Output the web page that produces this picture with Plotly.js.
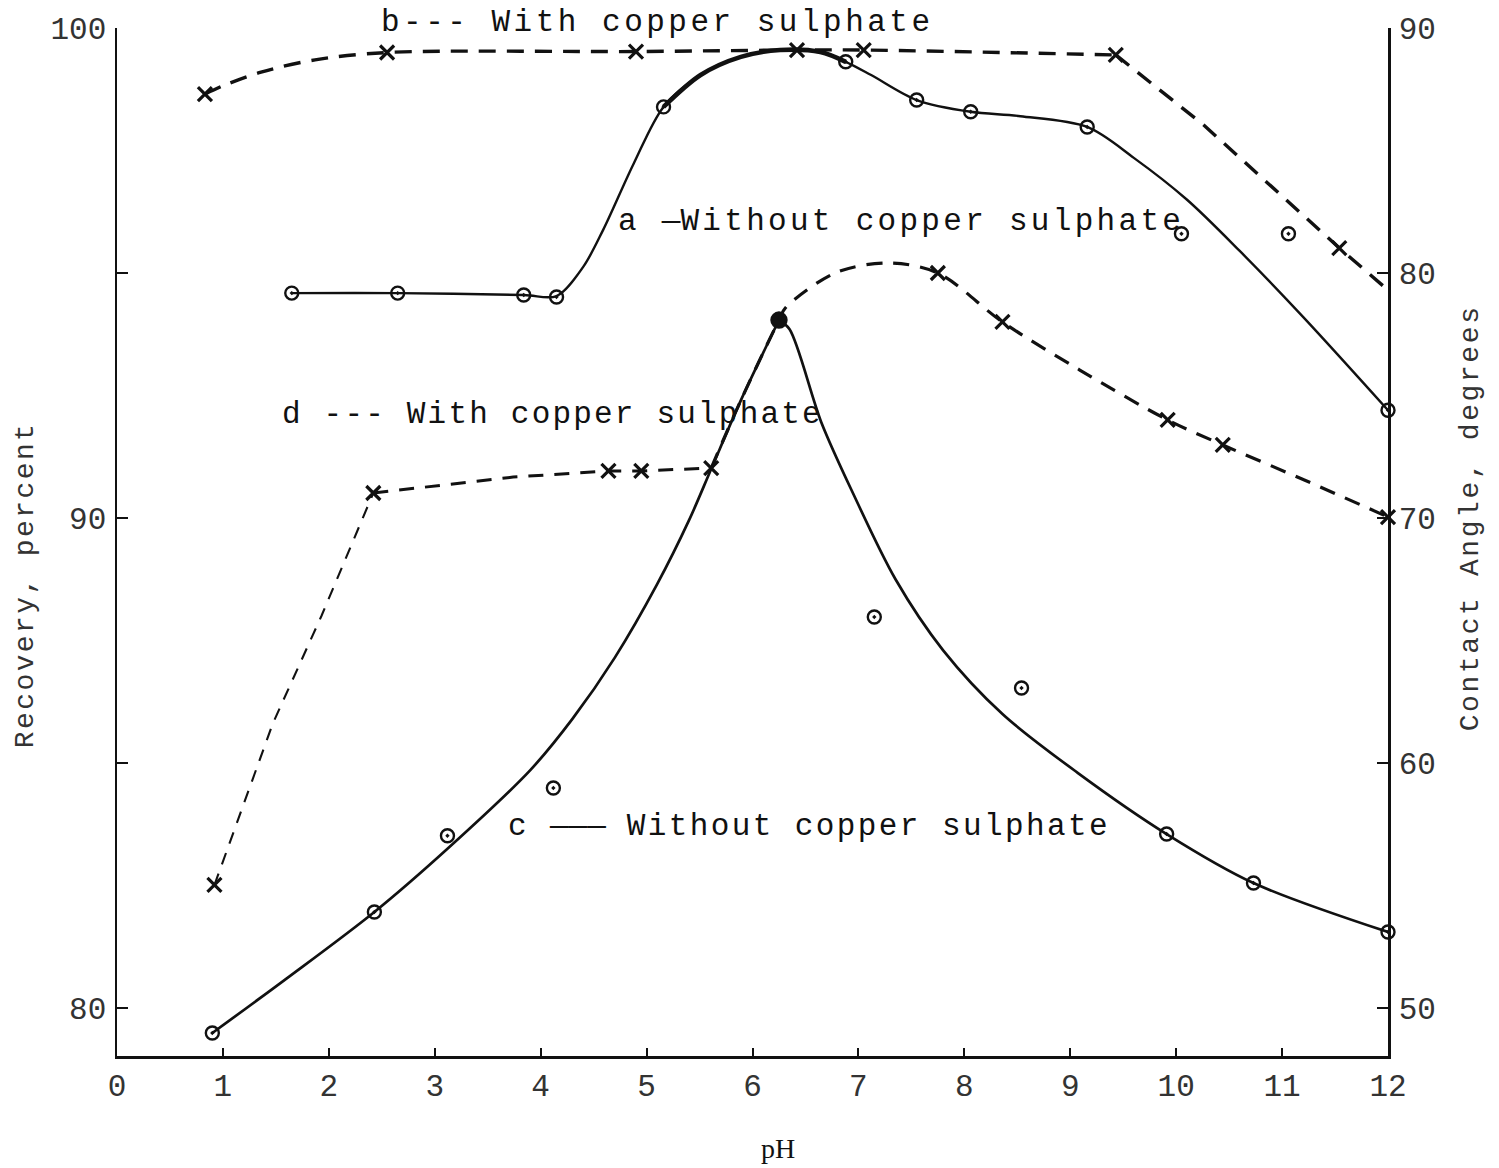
<!DOCTYPE html>
<html>
<head>
<meta charset="utf-8">
<script src="https://cdn.plot.ly/plotly-3.0.1.min.js"></script>
<style>
  html, body { margin: 0; padding: 0; background: #fff; }
  #chart { width: 1499px; height: 1168px; }
</style>
</head>
<body>
<div id="chart"></div>
<script>
// ---- axes ----
const phTicks = [0, 1, 2, 3, 4, 5, 6, 7, 8, 9, 10, 11, 12];
const recTicks = [80, 85, 90, 95, 100];
const recTickText = ['80', '', '90', '', '100'];
const angTicks = [50, 60, 70, 80, 90];
const recRange = [79.02, 100];
const angRange = [48.04, 90];

// ---- curve a: recovery without copper sulphate ----
const aPH  = [1.65, 2.65, 3.84, 4.15, 5.16, 6.88, 7.55, 8.06, 9.16, 10.05, 11.06, 12.0];
const aRec = [94.59, 94.59, 94.55, 94.51, 98.39, 99.31, 98.53, 98.29, 97.98, 95.8, 95.8, 92.2];
const aCurvePH  = [1.65, 2.65, 3.84, 4.15, 4.4, 4.59, 4.88, 5.16, 5.51, 5.89, 6.26, 6.64, 6.88, 7.12, 7.55, 8.06, 8.53, 9.16, 9.6, 10.1, 10.6, 11.2, 12.0];
const aCurveRec = [94.59, 94.59, 94.55, 94.53, 95.12, 95.88, 97.24, 98.39, 99.04, 99.41, 99.55, 99.51, 99.31, 99.04, 98.53, 98.29, 98.2, 97.98, 97.35, 96.5, 95.45, 94.1, 92.2];
// the stretch of curve a that is inked heavier
const aHeavyFrom = 5.3, aHeavyTo = 6.85;

// ---- curve b: recovery with copper sulphate ----
const bPH  = [0.83, 2.55, 4.9, 6.42, 7.05, 9.43, 11.54];
const bRec = [98.65, 99.5, 99.52, 99.55, 99.55, 99.45, 95.51];
const bCurvePH  = [0.83, 1.0, 1.36, 1.87, 2.55, 4.9, 6.42, 7.05, 9.43];
const bCurveRec = [98.65, 98.82, 99.1, 99.35, 99.5, 99.52, 99.55, 99.55, 99.45];
const bTailPH  = [9.43, 10.26, 11.54, 12.0];
const bTailRec = [99.45, 98.02, 95.51, 94.65];

// ---- curve c: contact angle without copper sulphate ----
const cPH  = [0.9, 2.43, 3.12, 4.12, 6.25, 7.15, 8.54, 9.91, 10.73, 12.0];
const cAng = [48.98, 53.92, 57.03, 58.98, 78.08, 65.96, 63.06, 57.1, 55.1, 53.1];
const cRisePH  = [0.9, 1.6, 2.43, 3.12, 3.9, 4.3, 4.7, 5.1, 5.4, 5.61, 5.89, 6.25];
const cRiseAng = [48.98, 51.2, 53.92, 56.5, 59.7, 61.8, 64.3, 67.3, 69.9, 72.0, 74.8, 78.08];
const cFallPH  = [6.25, 6.35, 6.65, 6.95, 7.35, 7.8, 8.36, 9.07, 9.91, 10.73, 12.0];
const cFallAng = [78.08, 77.7, 73.9, 71.0, 67.5, 64.6, 62.0, 59.6, 57.1, 55.1, 53.1];

// ---- curve d: contact angle with copper sulphate ----
const dPH  = [0.92, 2.42, 4.64, 4.95, 5.61, 7.75, 8.36, 9.92, 10.44, 12.0];
const dAng = [55.02, 71.02, 71.92, 71.92, 72.04, 80.0, 78.0, 74.0, 72.98, 70.04];
const dClimbPH  = [0.92, 1.47, 1.93, 2.42];
const dClimbAng = [55.02, 61.6, 66.0, 71.02];
const dFlatPH  = [2.42, 3.74, 4.64, 4.95, 5.61];
const dFlatAng = [71.02, 71.67, 71.92, 71.92, 72.04];
const dHumpPH  = [5.61, 5.89, 6.25, 6.31, 6.78, 7.28, 7.75, 8.36, 9.09, 9.92, 10.44, 11.21, 12.0];
const dHumpAng = [72.04, 74.8, 78.08, 78.57, 80.0, 80.41, 80.0, 78.0, 76.04, 74.0, 72.98, 71.55, 70.04];

// ---- text ----
const MONO = '"Liberation Mono", "DejaVu Sans Mono", monospace';
const SERIF = '"Liberation Serif", "DejaVu Serif", serif';
const INK = '#111';
const spaced = (s, px) => '<span style="letter-spacing:' + px + 'px">' + s + '</span>';

// each label: key letter, line sample, caption, anchor, letter spacing
const curveLabels = [
  {key: 'b', rule: '---', caption: ' With copper sulphate', x: 2.47, y: 1.0049, yref: 'paper', ls: 3.5},
  {key: 'a ', rule: '\u2014', caption: 'Without copper sulphate', x: 4.71, y: 96.06, yref: 'y', ls: 3.3},
  {key: 'd ', rule: '---', caption: ' With copper sulphate', x: 1.54, y: 92.12, yref: 'y', ls: 2.2},
  {key: 'c ', rule: '\u2014\u2014\u2014', caption: ' Without copper sulphate', x: 3.67, y: 83.71, yref: 'y', ls: 2.4}
];
const labelText = l => l.rule.indexOf('-') >= 0
  ? spaced(l.key + l.rule + l.caption, l.ls)
  : spaced(l.key, l.ls) + '<span style="letter-spacing:0px">' + l.rule + '</span>' + spaced(l.caption, l.ls);

const solid = (x, y, w) => ({x, y, yaxis: 'y', mode: 'lines', hoverinfo: 'skip',
  line: {color: INK, width: w, shape: 'spline', smoothing: 0.9}});

const inHeavy = p => p >= aHeavyFrom - 0.2 && p <= aHeavyTo + 0.05;
const aHeavyPH = aCurvePH.filter(inHeavy);
const aHeavyRec = aCurveRec.filter((r, i) => inHeavy(aCurvePH[i]));
const cPeak = Math.max(...cAng);

const traces = [
  // curve a
  solid(aCurvePH, aCurveRec, 2.4),
  solid(aHeavyPH, aHeavyRec, 4.6),
  {x: aPH, y: aRec, mode: 'markers', cliponaxis: false,
   marker: {symbol: 'circle-open-dot', size: 13, opacity: 1, color: INK, line: {color: INK, width: 2.4}}},
  // curve b
  {x: bCurvePH, y: bCurveRec, mode: 'lines',
   line: {color: INK, width: 3.4, dash: '17px,11px', shape: 'spline', smoothing: 0.9}},
  {x: bTailPH, y: bTailRec, mode: 'lines',
   line: {color: INK, width: 3.4, dash: '17px,11px'}},
  {x: bPH, y: bRec, mode: 'markers', cliponaxis: false,
   marker: {symbol: 'x-thin', size: 14, opacity: 1, color: INK, line: {color: INK, width: 3.2}}},
  // curve c
  Object.assign(solid(cRisePH, cRiseAng, 2.7), {yaxis: 'y2'}),
  Object.assign(solid(cFallPH, cFallAng, 2.7), {yaxis: 'y2'}),
  {x: cPH, y: cAng, yaxis: 'y2', mode: 'markers', cliponaxis: false,
   marker: {symbol: cAng.map(v => v === cPeak ? 'circle' : 'circle-open-dot'),
            size: cAng.map(v => v === cPeak ? 15 : 13),
            opacity: 1, color: INK, line: {color: INK, width: 2.4}}},
  // curve d
  {x: dClimbPH, y: dClimbAng, yaxis: 'y2', mode: 'lines',
   line: {color: INK, width: 2.1, dash: '12px,10px'}},
  {x: dFlatPH, y: dFlatAng, yaxis: 'y2', mode: 'lines',
   line: {color: INK, width: 3, dash: '15px,11px'}},
  {x: dHumpPH, y: dHumpAng, yaxis: 'y2', mode: 'lines',
   line: {color: INK, width: 3.2, dash: '16px,11px', shape: 'spline', smoothing: 0.9}},
  {x: dPH, y: dAng, yaxis: 'y2', mode: 'markers', cliponaxis: false,
   marker: {symbol: 'x-thin', size: 14, opacity: 1, color: INK, line: {color: INK, width: 3.2}}}
];

const axisCommon = {
  showgrid: false, zeroline: false, showline: true,
  linecolor: INK, linewidth: 2.5,
  ticks: 'inside', tickcolor: INK, tickwidth: 2,
  tickfont: {family: MONO, size: 31, color: '#333'}
};

const layout = {
  width: 1499, height: 1168,
  margin: {l: 117, r: 111, t: 28, b: 112, pad: 0},
  paper_bgcolor: '#fff', plot_bgcolor: '#fff',
  showlegend: false,
  xaxis: Object.assign({}, axisCommon, {
    range: [0, 12], tickvals: phTicks, ticklen: 8, ticklabelstandoff: 0
  }),
  yaxis: Object.assign({}, axisCommon, {
    range: recRange, tickvals: recTicks, ticktext: recTickText, ticklen: 11, ticklabelstandoff: 2
  }),
  yaxis2: Object.assign({}, axisCommon, {
    range: angRange, tickvals: angTicks, ticklen: 11, ticklabelstandoff: 2,
    overlaying: 'y', side: 'right'
  }),
  annotations: curveLabels.map(l => ({
    text: labelText(l), x: l.x, y: l.y, xref: 'x', yref: l.yref,
    xanchor: 'left', yanchor: 'middle', align: 'left', showarrow: false,
    font: {family: MONO, size: 31, color: INK}
  })).concat([
    {text: spaced('Recovery, percent', 2.4), xref: 'paper', yref: 'paper',
     x: -0.0724, y: 0.458, textangle: -90, showarrow: false,
     xanchor: 'center', yanchor: 'middle',
     font: {family: MONO, size: 28, color: '#333'}},
    {text: spaced('Contact Angle, degrees', 2.6), xref: 'paper', yref: 'paper',
     x: 1.0645, y: 0.524, textangle: -90, showarrow: false,
     xanchor: 'center', yanchor: 'middle',
     font: {family: MONO, size: 28, color: '#333'}},
    {text: 'pH', xref: 'paper', yref: 'paper', x: 0.52, y: -0.0895,
     showarrow: false, xanchor: 'center', yanchor: 'middle',
     font: {family: SERIF, size: 28, color: INK}}
  ])
};

Plotly.newPlot('chart', traces, layout, {staticPlot: true, displayModeBar: false});
</script>
</body>
</html>
